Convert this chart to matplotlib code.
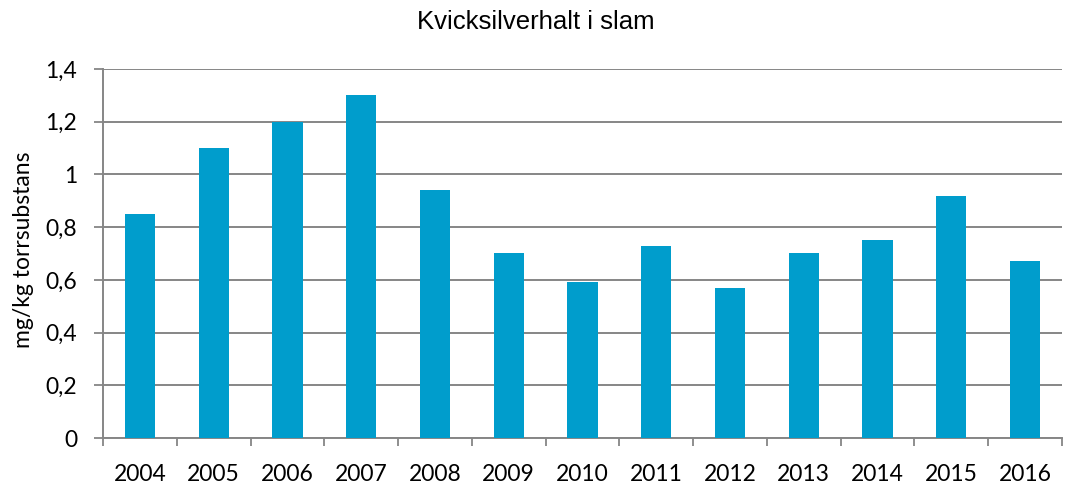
import matplotlib
matplotlib.use("Agg")
import matplotlib.pyplot as plt
from matplotlib.ticker import FixedLocator, FuncFormatter
import numpy as np

years = ["2004", "2005", "2006", "2007", "2008", "2009", "2010",
         "2011", "2012", "2013", "2014", "2015", "2016"]
values = [0.85, 1.10, 1.20, 1.30, 0.94, 0.70, 0.59, 0.73, 0.57, 0.70, 0.75, 0.92, 0.67]
yticks = [0, 0.2, 0.4, 0.6, 0.8, 1.0, 1.2, 1.4]

bar_color = "#009DCC"
grid_color = "#868686"

fig = plt.figure(figsize=(10.67, 4.86), dpi=100)
ax = fig.add_axes([103/1067, 48/486, (1062-103)/1067, (438-69)/486])

x = np.arange(len(years))
ax.bar(x, values, width=0.41, color=bar_color, zorder=3)

ax.set_xlim(-0.5, len(years) - 0.5)
ax.set_ylim(0, 1.4)
ax.yaxis.set_major_locator(FixedLocator(yticks))
ax.yaxis.set_major_formatter(FuncFormatter(lambda v, p: ("%g" % round(v, 1)).replace(".", ",")))
ax.grid(axis="y", color=grid_color, linewidth=1.4, zorder=0)

ax.set_xticks(x)
ax.set_xticklabels(years)
ax.xaxis.set_minor_locator(FixedLocator(np.arange(-0.5, len(years), 1.0)))
ax.tick_params(axis="x", which="major", length=0, pad=19, labelsize=16.5)
ax.tick_params(axis="x", which="minor", length=6, width=1.3, color=grid_color, direction="out")
ax.tick_params(axis="y", length=6.5, width=1.3, color=grid_color, direction="out", pad=12, labelsize=16.5)
for lab in ax.get_xticklabels() + ax.get_yticklabels():
    lab.set_family("Lato")

for side in ["top", "right"]:
    ax.spines[side].set_visible(False)
for side in ["left", "bottom"]:
    ax.spines[side].set_color(grid_color)
    ax.spines[side].set_linewidth(1.4)

fig.text(24/1067, 1 - 250/486, "mg/kg torrsubstans", family="Lato", fontsize=16.5,
         rotation=90, ha="center", va="center")
fig.text(536/1067, 1 - 22/486, "Kvicksilverhalt i slam", family="Liberation Sans",
         fontsize=18.5, ha="center", va="center")

fig.savefig("out.png", dpi=100)
